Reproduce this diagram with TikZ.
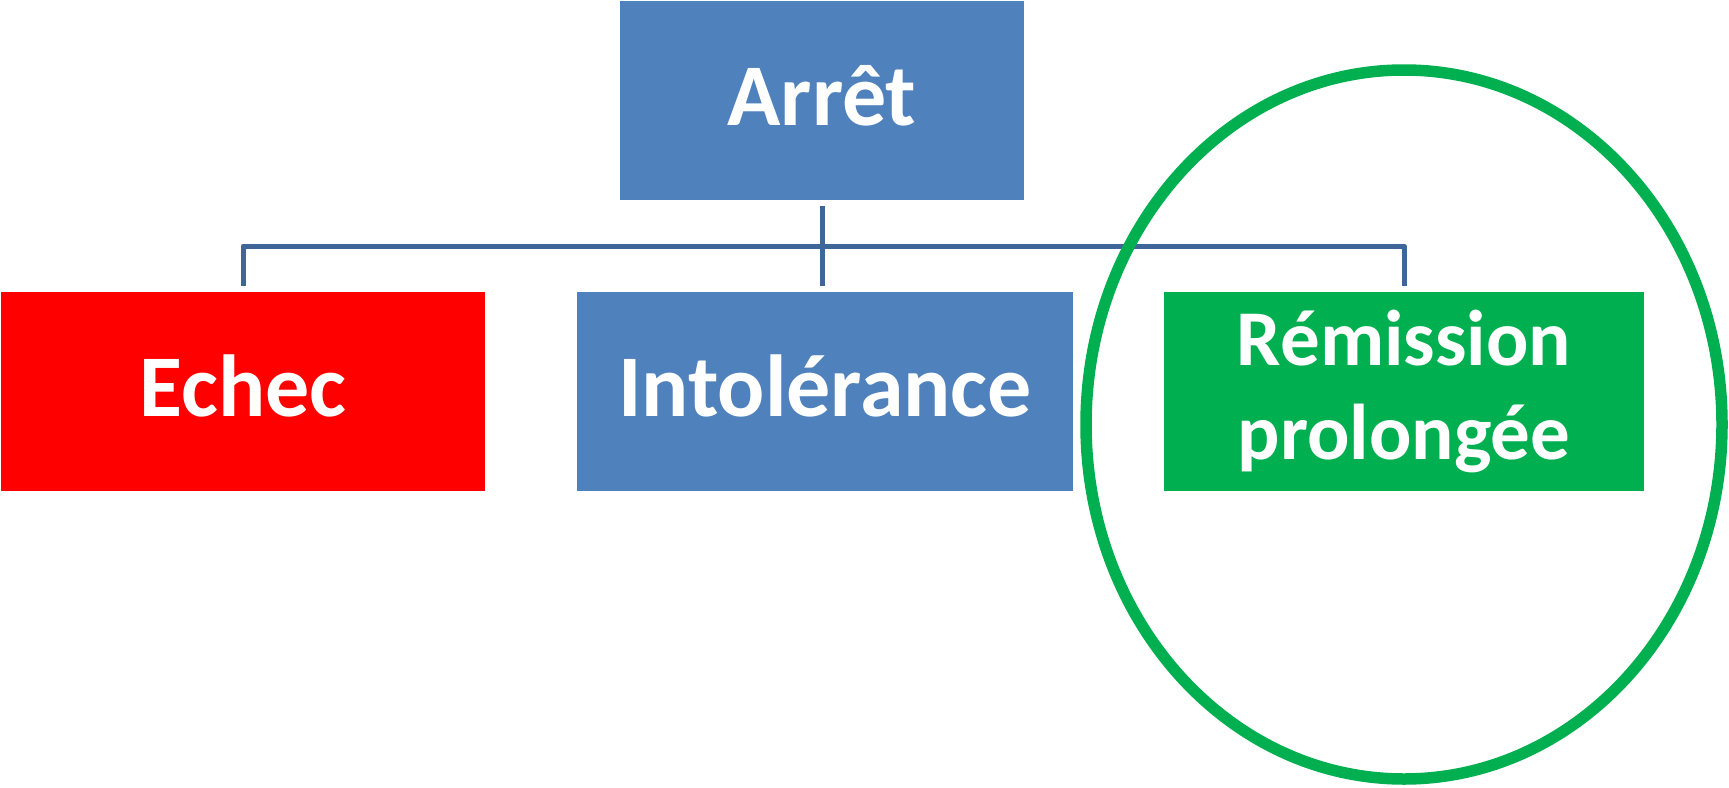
\documentclass[tikz,border=0pt]{standalone}
\usepackage{fontspec}
\setmainfont{Carlito}
\usepackage{tikz}
\definecolor{boxblue}{RGB}{79,129,189}
\definecolor{failred}{RGB}{255,0,0}
\definecolor{remitgreen}{RGB}{0,176,80}
\definecolor{linkblue}{RGB}{62,102,152}

\begin{document}
\begin{tikzpicture}[x=0.5pt,y=-0.5pt,
  outcome/.style={minimum height=99.5pt,inner sep=0pt,text=white,align=center,
    font=\bfseries\fontsize{44}{47}\selectfont},
  oneline/.style={text height=34pt,text depth=9.2pt},
  link/.style={draw=linkblue,line width=2.5pt,line join=round}]
  \useasboundingbox (0,0) rectangle (1729,787);
  \node[outcome,oneline,fill=boxblue,minimum width=202pt] (arret) at (822,100.5) {Arrêt};
  \node[outcome,oneline,fill=failred,minimum width=242pt] (echec) at (243,391.5) {Echec};
  \node[outcome,oneline,fill=boxblue,minimum width=248pt] (intol) at (825,391.5) {Intolérance};
  \node[outcome,fill=remitgreen,minimum width=240pt,
    font=\bfseries\fontsize{39.5}{47}\selectfont] (remis) at (1404,391.5) {Rémission\\prolongée};
  % tree links
  \coordinate (bus) at (822,246);
  \draw[link] ([yshift=-3pt]arret.south) -- ([yshift=3pt]arret.south |- intol.north);
  \draw[link] ([yshift=3pt]echec.north) |- (bus) -| ([yshift=3pt]remis.north);
  % highlight
  \draw[remitgreen,line width=5.75pt] (1404,424.5) ellipse [x radius=159pt,y radius=177.25pt];
\end{tikzpicture}
\end{document}
